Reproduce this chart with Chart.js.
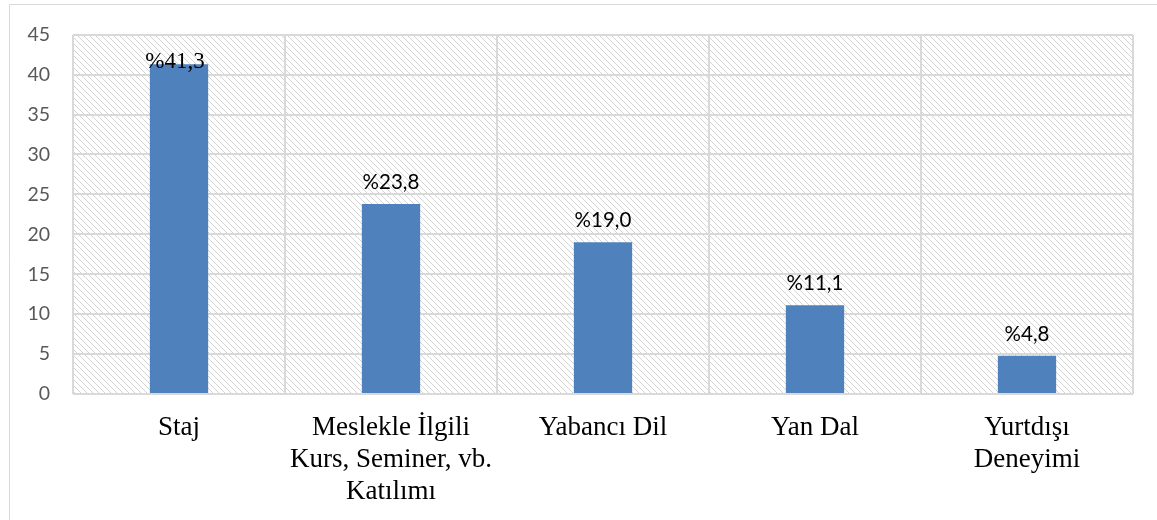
<!DOCTYPE html>
<html>
<head>
<meta charset="utf-8">
<script src="https://cdn.jsdelivr.net/npm/chart.js@4"></script>
<style>
  html, body { margin: 0; padding: 0; background: #fff; }
  #myChart { display: block; }
</style>
</head>
<body>
<canvas id="myChart" width="1157" height="520"></canvas>
<script>
const categories = [
    ['Staj'],
    ['Meslekle İlgili', 'Kurs, Seminer, vb.', 'Katılımı'],
    ['Yabancı Dil'],
    ['Yan Dal'],
    ['Yurtdışı', 'Deneyimi']
];
const values = [41.3, 23.8, 19.0, 11.1, 4.8];
const valueLabels = ['%41,3', '%23,8', '%19,0', '%11,1', '%4,8'];
const yTicks = [0, 5, 10, 15, 20, 25, 30, 35, 40, 45];

const SERIF = '"Liberation Serif", "Times New Roman", serif';

window.addEventListener('DOMContentLoaded', function () {

    // motif hachuré du fond de la zone de tracé
    function makeHatch() {
        const c = document.createElement('canvas');
        c.width = 6; c.height = 6;
        const g = c.getContext('2d');
        g.strokeStyle = '#d4d4d4';
        g.lineWidth = 1;
        g.beginPath();
        g.moveTo(-1, -1); g.lineTo(7, 7);
        g.moveTo(-4, 2); g.lineTo(2, 8);
        g.moveTo(2, -4); g.lineTo(8, 2);
        g.stroke();
        return g.createPattern(c, 'repeat');
    }

    const bgPlugin = {
        id: 'bgPlugin',
        beforeDraw: function (chart) {
            const ctx = chart.ctx;
            const a = chart.chartArea;
            ctx.save();
            ctx.fillStyle = '#fff';
            ctx.fillRect(0, 0, chart.width, chart.height);
            // cadre extérieur
            ctx.strokeStyle = '#d9d9d9';
            ctx.lineWidth = 1;
            ctx.beginPath();
            ctx.moveTo(9.5, chart.height + 2);
            ctx.lineTo(9.5, 4.5);
            ctx.lineTo(chart.width + 2, 4.5);
            ctx.stroke();
            ctx.fillStyle = makeHatch();
            ctx.fillRect(a.left, a.top, a.right - a.left, a.bottom - a.top);
            ctx.restore();
        }
    };

    const labelPlugin = {
        id: 'labelPlugin',
        afterDatasetsDraw: function (chart) {
            const ctx = chart.ctx;
            const meta = chart.getDatasetMeta(0);
            ctx.save();
            ctx.textAlign = 'center';
            ctx.textBaseline = 'alphabetic';
            ctx.fillStyle = '#000';
            meta.data.forEach(function (bar, i) {
                if (i === 0) {
                    // le premier libellé est en police serif dans l'original
                    ctx.font = '23px ' + SERIF;
                    ctx.fillText(valueLabels[i], bar.x - 4, bar.y + 4);
                } else {
                    ctx.font = '20.5px Lato';
                    ctx.fillText(valueLabels[i], bar.x, bar.y - 15);
                }
            });
            ctx.restore();
        }
    };

    function getChart() {
        const ctx = document.getElementById('myChart');

        new Chart(ctx, {
            type: 'bar',
            data: {
                labels: categories,
                datasets: [{
                    data: values,
                    backgroundColor: '#4f81bd',
                    borderWidth: 0,
                    barPercentage: 0.55,
                    categoryPercentage: 0.5
                }]
            },
            options: {
                responsive: false,
                animation: false,
                layout: { padding: { left: 0, top: 33, right: 24, bottom: 0 } },
                plugins: {
                    legend: { display: false },
                    tooltip: { enabled: false }
                },
                scales: {
                    x: {
                        offset: true,
                        afterFit: function (scale) { scale.height = 126; },
                        grid: { offset: true, color: '#d9d9d9', lineWidth: 2, drawTicks: false },
                        border: { display: false },
                        ticks: {
                            padding: 18,
                            color: '#000',
                            font: { family: SERIF, size: 27, lineHeight: 1.185 },
                            maxRotation: 0,
                            autoSkip: false
                        }
                    },
                    y: {
                        min: 0,
                        max: 45,
                        afterFit: function (scale) { scale.width = 73; },
                        afterBuildTicks: function (scale) {
                            scale.ticks = yTicks.map(function (v) { return { value: v }; });
                        },
                        grid: { color: '#d9d9d9', lineWidth: 2, drawTicks: false },
                        border: { display: false },
                        ticks: {
                            padding: 23,
                            color: '#595959',
                            font: { family: 'Lato', size: 19.5 }
                        }
                    }
                }
            },
            plugins: [bgPlugin, labelPlugin]
        });
    }

    getChart();
});
</script>
</body>
</html>
